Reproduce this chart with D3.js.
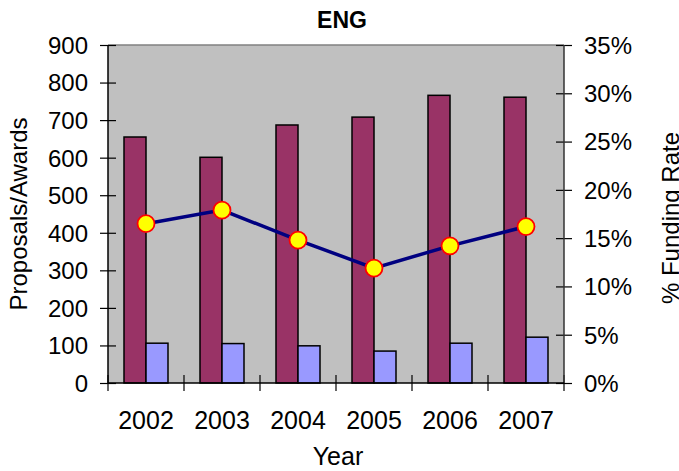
<!DOCTYPE html>
<html>
<head>
<meta charset="utf-8">
<script src="https://cdn.jsdelivr.net/npm/d3@7"></script>
<style>
  html, body { margin: 0; padding: 0; background: #fff; }
  svg { display: block; font-family: "Liberation Sans", Arial, sans-serif; }
</style>
</head>
<body>
<svg id="chart" width="679" height="471"></svg>
<script>
// ENG proposals, awards and funding rate by year
const years = ["2002", "2003", "2004", "2005", "2006", "2007"];
const proposals = [655, 601, 687, 708, 766, 761];
const awards = [106, 105, 99, 85, 106, 122];
const fundingRate = [16.5, 17.9, 14.8, 11.9, 14.2, 16.2];
const leftTicks = [0, 100, 200, 300, 400, 500, 600, 700, 800, 900];
const rightTicks = [0, 5, 10, 15, 20, 25, 30, 35];

const svg = d3.select("#chart");
const plot = { left: 108, right: 564, top: 45, bottom: 383 };

const x = d3.scaleBand().domain(years).range([plot.left, plot.right]);
const yLeft = d3.scaleLinear().domain([0, 900]).range([plot.bottom, plot.top]);
const yRight = d3.scaleLinear().domain([0, 35]).range([plot.bottom, plot.top]);

// plot area
svg.append("rect")
  .attr("x", plot.left).attr("y", plot.top)
  .attr("width", plot.right - plot.left).attr("height", plot.bottom - plot.top)
  .attr("fill", "#C0C0C0");
svg.append("line")
  .attr("x1", plot.left).attr("x2", plot.right)
  .attr("y1", plot.top).attr("y2", plot.top)
  .attr("stroke", "#808080").attr("stroke-width", 1.5);

// bars: proposals and awards side by side in each year
const barW = 22;
const g = svg.append("g");
years.forEach((yr, i) => {
  const cx = x(yr) + x.bandwidth() / 2;
  g.append("rect")
    .attr("x", cx - barW).attr("y", yLeft(proposals[i]))
    .attr("width", barW).attr("height", yLeft(0) - yLeft(proposals[i]))
    .attr("fill", "#993366").attr("stroke", "#000").attr("stroke-width", 1.5);
  g.append("rect")
    .attr("x", cx).attr("y", yLeft(awards[i]))
    .attr("width", barW).attr("height", yLeft(0) - yLeft(awards[i]))
    .attr("fill", "#9999FF").attr("stroke", "#000").attr("stroke-width", 1.5);
});

// axes with crossing tick marks
const axisStyle = size => sel => {
  sel.select(".domain").remove();
  sel.selectAll(".tick line").attr("stroke", "#000").attr("stroke-width", 1.2);
  sel.selectAll(".tick text").attr("fill", "#000").style("font-size", size + "px")
    .style("font-family", "'Liberation Sans', Arial, sans-serif");
};

const leftAxis = svg.append("g")
  .attr("transform", `translate(${plot.left},0)`)
  .call(d3.axisLeft(yLeft).tickValues(leftTicks).tickSize(8))
  .call(axisStyle(24));
leftAxis.selectAll(".tick line").attr("x1", 8).attr("x2", -8);
leftAxis.selectAll(".tick text").attr("x", -20).attr("dy", "0.35em");

const rightAxis = svg.append("g")
  .attr("transform", `translate(${plot.right},0)`)
  .call(d3.axisRight(yRight).tickValues(rightTicks).tickSize(8)
    .tickFormat(d => d + "%"))
  .call(axisStyle(24));
rightAxis.selectAll(".tick line").attr("x1", -8).attr("x2", 8);
rightAxis.selectAll(".tick text").attr("x", 20).attr("dy", "0.35em");

const bottomAxis = svg.append("g")
  .attr("transform", `translate(0,${plot.bottom})`)
  .call(d3.axisBottom(x).tickSize(0))
  .call(axisStyle(25));
bottomAxis.selectAll(".tick text").attr("y", 0).attr("dy", 0)
  .attr("transform", "translate(0,46)");
// category boundary ticks
const bounds = years.map(d => x(d)).concat([plot.right]);
bottomAxis.selectAll(".bound").data(bounds).enter().append("line")
  .attr("x1", d => d).attr("x2", d => d).attr("y1", -8).attr("y2", 8)
  .attr("stroke", "#000").attr("stroke-width", 1.2);

// axis lines
svg.append("line").attr("x1", plot.left).attr("x2", plot.left)
  .attr("y1", plot.top).attr("y2", plot.bottom).attr("stroke", "#000").attr("stroke-width", 1.5);
svg.append("line").attr("x1", plot.right).attr("x2", plot.right)
  .attr("y1", plot.top).attr("y2", plot.bottom).attr("stroke", "#333").attr("stroke-width", 1.5);
svg.append("line").attr("x1", plot.left).attr("x2", plot.right)
  .attr("y1", plot.bottom).attr("y2", plot.bottom).attr("stroke", "#000").attr("stroke-width", 1.5);

// funding rate line with markers
const cxOf = (d, i) => x(years[i]) + x.bandwidth() / 2;
const line = d3.line().x((d, i) => cxOf(d, i)).y(d => yRight(d));
svg.append("path").datum(fundingRate)
  .attr("d", line).attr("fill", "none")
  .attr("stroke", "#000080").attr("stroke-width", 3.5);
svg.selectAll(".marker").data(fundingRate).enter().append("circle")
  .attr("cx", (d, i) => cxOf(d, i)).attr("cy", d => yRight(d))
  .attr("r", 8.5).attr("fill", "#FFFF00")
  .attr("stroke", "#FF0000").attr("stroke-width", 1.8);

// titles
svg.append("text").attr("x", 342).attr("y", 28).attr("text-anchor", "middle")
  .style("font-size", "23px").style("font-weight", "bold").text("ENG");
svg.append("text").attr("x", 338).attr("y", 465).attr("text-anchor", "middle")
  .style("font-size", "25px").text("Year");
svg.append("text")
  .attr("transform", `translate(27,${(plot.top + plot.bottom) / 2}) rotate(-90)`)
  .attr("text-anchor", "middle").style("font-size", "24px").text("Proposals/Awards");
svg.append("text")
  .attr("transform", `translate(679,${(plot.top + plot.bottom) / 2 + 4}) rotate(-90)`)
  .attr("text-anchor", "middle").style("font-size", "24px").text("% Funding Rate");
</script>
</body>
</html>
